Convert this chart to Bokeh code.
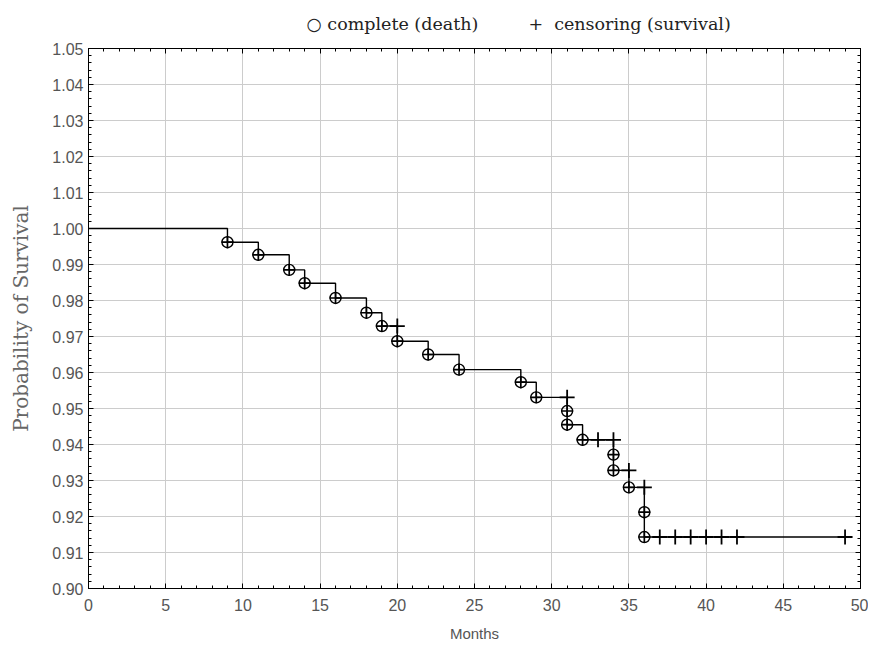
from bokeh.plotting import figure
from bokeh.models import (Range1d, SingleIntervalTicker, LinearAxis, PrintfTickFormatter,
                          CustomJSTickFormatter, Title)
from bokeh.embed import file_html
from bokeh.resources import INLINE

# Kaplan-Meier data
death_t = [9, 11, 13, 14, 16, 18, 19, 20, 22, 24, 28, 29, 31, 31, 32, 34, 34, 35, 36, 36]
death_s = [0.9962, 0.9927, 0.9885, 0.9848, 0.9807, 0.9766, 0.9729, 0.9687, 0.9650, 0.9608,
           0.9573, 0.9531, 0.9493, 0.9455, 0.9413, 0.9372, 0.9328, 0.9281, 0.9212, 0.9143]
cens_t = [20, 31, 33, 34, 35, 36, 37, 38, 39, 40, 41, 42, 49]
cens_s = [0.9729, 0.9531, 0.9413, 0.9413, 0.9328, 0.9281, 0.9143, 0.9143, 0.9143, 0.9143,
          0.9143, 0.9143, 0.9143]
start_t, start_s = 0, 1.0
end_t = 49
legend_labels = ["complete (death)", "censoring (survival)"]

step_x = [start_t] + death_t + [end_t]
step_y = [start_s] + death_s + [death_s[-1]]

p = figure(width=868, height=647, output_backend="svg", toolbar_location=None,
           x_range=Range1d(0, 50), y_range=Range1d(0.90, 1.05),
           min_border_left=88, min_border_right=8, min_border_top=48, min_border_bottom=59)
p.outline_line_color = "black"
p.background_fill_color = "white"

xt = SingleIntervalTicker(interval=5, num_minor_ticks=5)
yt = SingleIntervalTicker(interval=0.01, num_minor_ticks=5)

for ax in (p.xaxis[0], p.yaxis[0]):
    ax.major_tick_in = 5
    ax.major_tick_out = 0
    ax.minor_tick_in = 3
    ax.minor_tick_out = 0
    ax.axis_line_color = "black"
    ax.major_tick_line_color = "black"
    ax.minor_tick_line_color = "black"
    ax.major_label_text_font = "Liberation Sans"
    ax.major_label_text_font_size = "16px"
    ax.major_label_text_color = "#555555"
p.xaxis[0].ticker = xt
p.yaxis[0].ticker = yt
p.yaxis[0].formatter = PrintfTickFormatter(format="%.2f")
p.xaxis[0].major_label_standoff = 10
p.yaxis[0].major_label_standoff = 5

p.xaxis.axis_label = "Months"
p.xaxis.axis_label_text_font = "Liberation Sans"
p.xaxis.axis_label_text_font_style = "normal"
p.xaxis.axis_label_text_font_size = "15px"
p.xaxis.axis_label_text_color = "#555555"
p.xaxis.axis_label_standoff = 11

p.yaxis.axis_label = "Probability of Survival"
p.yaxis.axis_label_text_font = "DejaVu Serif"
p.yaxis.axis_label_text_font_style = "normal"
p.yaxis.axis_label_text_font_size = "20px"
p.yaxis.axis_label_text_color = "#666666"
p.yaxis.axis_label_standoff = 16

blank = CustomJSTickFormatter(code="return '';")
for loc, tick in (("above", xt), ("right", yt)):
    ax = LinearAxis(ticker=tick, formatter=blank, major_label_standoff=0,
                    major_tick_in=5, major_tick_out=0, minor_tick_in=3, minor_tick_out=0,
                    axis_line_color="black", major_tick_line_color="black",
                    minor_tick_line_color="black")
    p.add_layout(ax, loc)

p.xgrid.ticker = xt
p.ygrid.ticker = yt
p.xgrid.grid_line_color = "#cccccc"
p.ygrid.grid_line_color = "#cccccc"

p.step(step_x, step_y, mode="after", line_color="black", line_width=1.4)

p.scatter(death_t, death_s, marker="circle", size=11, fill_color=None,
          line_color="black", line_width=1.4)
p.scatter(death_t, death_s, marker="cross", size=12, line_color="black", line_width=1.7)
p.scatter(cens_t, cens_s, marker="cross", size=15, line_color="black", line_width=1.8)

nb = "\u00a0"
legend_text = ("\u25cb " + legend_labels[0] + nb * 9 + "+" + nb * 2 + legend_labels[1])
p.title = Title(text=legend_text, align="left", offset=218, text_font="DejaVu Serif",
                text_font_size="17.5px", text_font_style="normal", text_color="#222222",
                standoff=26, vertical_align="top")

open("out.html", "w").write(file_html(p, INLINE))
